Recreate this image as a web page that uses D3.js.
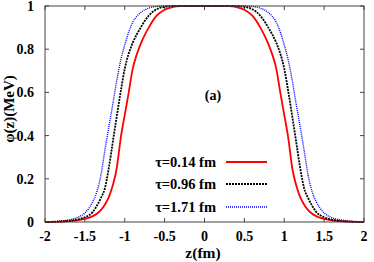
<!DOCTYPE html>
<html><head><meta charset="utf-8">
<script src="https://cdn.jsdelivr.net/npm/d3@7"></script>
<style>body{margin:0;background:#fff}svg{display:block}text{font-family:"Liberation Serif","Times New Roman",serif;font-weight:bold}</style>
</head><body><svg id="c" width="374" height="262"></svg>
<script>
const zGrid = [-2,-1.8,-1.7,-1.6,-1.5,-1.4,-1.35,-1.3,-1.25,-1.2,-1.15,-1.1,-1.05,-1,-0.95,-0.9,-0.85,-0.8,-0.75,-0.7,-0.6,-0.5,-0.4,-0.3,-0.2,0,0.2,0.3,0.4,0.5,0.6,0.7,0.75,0.8,0.85,0.9,0.95,1,1.05,1.1,1.15,1.2,1.25,1.3,1.35,1.4,1.5,1.6,1.7,1.8,2];
const red   = [0,0.002,0.004,0.008,0.014,0.027,0.038,0.055,0.08,0.115,0.17,0.25,0.39,0.496,0.60,0.71,0.775,0.825,0.865,0.9,0.955,0.983,0.995,0.999,1,1,1,0.999,0.995,0.983,0.955,0.9,0.865,0.825,0.775,0.71,0.60,0.496,0.39,0.25,0.17,0.115,0.08,0.055,0.038,0.027,0.014,0.008,0.004,0.002,0];
const black = [0,0.002,0.005,0.011,0.022,0.047,0.075,0.11,0.155,0.25,0.37,0.49,0.605,0.71,0.78,0.83,0.868,0.9,0.93,0.955,0.985,0.996,1,1,1,1,1,1,1,0.996,0.985,0.955,0.93,0.9,0.868,0.83,0.78,0.71,0.605,0.49,0.37,0.25,0.155,0.11,0.075,0.047,0.022,0.011,0.005,0.002,0];
const blue  = [0.001,0.005,0.01,0.02,0.042,0.095,0.14,0.215,0.33,0.44,0.545,0.655,0.75,0.82,0.88,0.925,0.952,0.97,0.982,0.99,0.998,1,1,1,1,1,1,1,1,1,0.998,0.99,0.982,0.97,0.952,0.925,0.88,0.82,0.75,0.655,0.545,0.44,0.33,0.215,0.14,0.095,0.042,0.02,0.01,0.005,0.001];
const seriesNames = ["τ=0.14 fm","τ=0.96 fm","τ=1.71 fm"];
const xTicks = [-2,-1.5,-1,-0.5,0,0.5,1,1.5,2];
const xTickLabels = ["-2","-1.5","-1","-0.5","0","0.5","1","1.5","2"];
const yTicks = [0,0.2,0.4,0.6,0.8,1];
const yTickLabels = ["0","0.2","0.4","0.6","0.8","1"];

const svg = d3.select("#c");
const L=45,R=364,T=6,B=222;
const x = d3.scaleLinear().domain([-2,2]).range([L,R]);
const y = d3.scaleLinear().domain([0,1]).range([B,T]);
const ax = "#444";

const g = svg.append("g");
xTicks.forEach((t,i)=>{
  g.append("line").attr("x1",x(t)).attr("x2",x(t)).attr("y1",B).attr("y2",B-4).attr("stroke",ax);
  g.append("line").attr("x1",x(t)).attr("x2",x(t)).attr("y1",T).attr("y2",T+4).attr("stroke",ax);
  g.append("text").attr("x",x(t)).attr("y",241).attr("text-anchor","middle").attr("font-size",14).text(xTickLabels[i]);
});
yTicks.forEach((t,i)=>{
  g.append("line").attr("x1",L).attr("x2",L+4).attr("y1",y(t)).attr("y2",y(t)).attr("stroke",ax);
  g.append("line").attr("x1",R).attr("x2",R-4).attr("y1",y(t)).attr("y2",y(t)).attr("stroke",ax);
  g.append("text").attr("x",34).attr("y",y(t)+5).attr("text-anchor","end").attr("font-size",14).text(yTickLabels[i]);
});

const line = d3.line().x((d,i)=>x(zGrid[i])).y(d=>y(d)).curve(d3.curveMonotoneX);
const styles = [
  {data:red,color:"#ff0000",w:1.8,dash:null},
  {data:black,color:"#000000",w:1.8,dash:"2,1"},
  {data:blue,color:"#0000ff",w:1.4,dash:"1,1"}
];
styles.forEach(s=>{
  svg.append("path").attr("d",line(s.data)).attr("fill","none").attr("stroke",s.color)
    .attr("stroke-width",s.w).attr("stroke-dasharray",s.dash);
});

svg.append("rect").attr("x",L).attr("y",T).attr("width",R-L).attr("height",B-T).attr("fill","none").attr("stroke",ax);

const legY=[162,184,207];
styles.forEach((s,i)=>{
  svg.append("text").attr("x",216).attr("y",legY[i]+5).attr("text-anchor","end").attr("font-size",14.5).text(seriesNames[i]);
  svg.append("line").attr("x1",226).attr("x2",267).attr("y1",legY[i]).attr("y2",legY[i])
    .attr("stroke",s.color).attr("stroke-width",s.w).attr("stroke-dasharray",s.dash);
});

svg.append("text").attr("x",213).attr("y",100).attr("text-anchor","middle").attr("font-size",14).text("(a)");
svg.append("text").attr("x",203).attr("y",258).attr("text-anchor","middle").attr("font-size",15.5).text("z(fm)");
svg.append("text").attr("transform","translate(14,109) rotate(-90)").attr("text-anchor","middle").attr("font-size",15).text("φ(z)(MeV)");
</script></body></html>
